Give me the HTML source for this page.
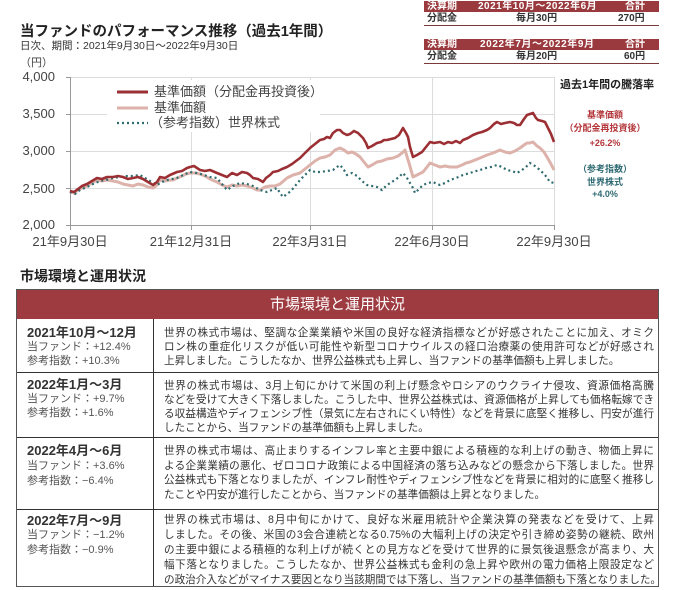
<!DOCTYPE html>
<html><head><meta charset="utf-8">
<style>
html,body{margin:0;padding:0;background:#fff;}
body{width:678px;height:590px;position:relative;overflow:hidden;font-family:"Liberation Sans","Noto Sans CJK JP",sans-serif;color:#333;}
.a{position:absolute;white-space:nowrap;}
.ttl{left:20px;top:23px;font-size:14.5px;font-weight:bold;color:#222;line-height:18px;}
.sub{left:20px;top:39px;font-size:10.5px;color:#333;line-height:14px;}
.yen{left:20px;top:56px;font-size:11px;color:#444;line-height:14px;}
.yl{font-size:13px;color:#444;width:40px;text-align:right;left:15px;line-height:14px;}
.xl{font-size:13px;color:#444;width:100px;text-align:center;top:234px;line-height:16px;}
.tb{position:absolute;left:424px;width:235px;font-size:10px;font-weight:bold;}
.tb .h{background:#9b3a3e;color:#fff;height:11px;line-height:11px;position:relative;}
.tb .r{height:13px;line-height:13px;position:relative;border-bottom:1px solid #7a3a3a;color:#333;}
.tb span{position:absolute;top:0;}
.ann{font-size:9px;font-weight:bold;text-align:center;width:100px;left:555px;line-height:12px;}
.sec{left:20px;top:267px;font-size:14px;font-weight:bold;color:#222;line-height:18px;}
.tbl{position:absolute;left:16px;top:289px;width:641px;height:296px;border:1px solid #555;}
.th{position:absolute;left:0;top:0;width:641px;height:29px;background:#9d3b40;color:#fff;font-size:15px;text-align:center;line-height:29px;}
.row{position:absolute;left:0;width:641px;border-top:1px solid #333;}
.vl{position:absolute;left:136px;top:29px;width:1px;height:267px;background:#333;}
.lc{position:absolute;left:10px;}
.lc .d{font-size:13px;font-weight:bold;color:#333;}
.lc .s{font-size:11px;color:#555;}
.rc{position:absolute;left:147px;width:490px;font-size:10.6px;color:#333;}
.rc div{white-space:nowrap;text-align:justify;text-align-last:justify;}
.rc div.l{text-align-last:left;}
</style></head><body>

<div class="a ttl">当ファンドのパフォーマンス推移（過去1年間）</div>
<div class="a sub">日次、期間：2021年9月30日～2022年9月30日</div>
<div class="a yen">（円）</div>

<div class="a yl" style="top:70px">4,000</div>
<div class="a yl" style="top:107px">3,500</div>
<div class="a yl" style="top:144px">3,000</div>
<div class="a yl" style="top:182px">2,500</div>
<div class="a yl" style="top:218px">2,000</div>

<svg class="a" style="left:0;top:0" width="678" height="260" viewBox="0 0 678 260">
 <g stroke="#dcdcdc" stroke-width="1" fill="none">
  <line x1="70" y1="77.5" x2="554" y2="77.5"/>
  <line x1="70" y1="114.5" x2="554" y2="114.5"/>
  <line x1="70" y1="151.5" x2="554" y2="151.5"/>
  <line x1="70" y1="188.5" x2="554" y2="188.5"/>
  <line x1="191.5" y1="77" x2="191.5" y2="225"/>
  <line x1="310.5" y1="77" x2="310.5" y2="225"/>
  <line x1="432.5" y1="77" x2="432.5" y2="225"/>
  <line x1="554.5" y1="77" x2="554.5" y2="225"/>
 </g>
 <g stroke="#999" stroke-width="1" fill="none">
  <line x1="70.5" y1="77" x2="70.5" y2="226"/>
  <line x1="70" y1="225.5" x2="555" y2="225.5"/>
  <line x1="66" y1="77.5" x2="70" y2="77.5"/>
  <line x1="66" y1="114.5" x2="70" y2="114.5"/>
  <line x1="66" y1="151.5" x2="70" y2="151.5"/>
  <line x1="66" y1="188.5" x2="70" y2="188.5"/>
  <line x1="66" y1="225.5" x2="70" y2="225.5"/>
  <line x1="70.5" y1="225" x2="70.5" y2="230"/>
  <line x1="191.5" y1="225" x2="191.5" y2="230"/>
  <line x1="310.5" y1="225" x2="310.5" y2="230"/>
  <line x1="432.5" y1="225" x2="432.5" y2="230"/>
  <line x1="554.5" y1="225" x2="554.5" y2="230"/>
 </g>
 <rect x="107" y="80" width="213" height="52" fill="#fff"/>
 <polyline fill="none" stroke="#dcb2ab" stroke-width="3" stroke-linejoin="round" points="70,191 74,193 78,190 82,188 87,186 92,183 97,180 102,181 107,180 113,181 118,182 123,184 128,185 133,186 138,184 143,185 148,187 153,188 157,185 160,180 165,181 170,180 173,180 177,178 182,176 186,174 190,173 195,173 200,174 205,176 210,179 217,182 222,185 227,187 232,185 237,186 242,185 247,186 253,188 257,190 260,190 265,187 270,186 275,186 280,184 287,178 293,175 300,173 305,169 310,165 315,161 320,158 325,157 330,155 335,150 340,148 344,150 348,153 352,152 356,154 360,157 364,162 368,167 372,165 377,162 382,161 387,159 393,158 398,156 402,153 405,150 409,163 413,177 417,175 423,172 427,167 430,163 435,165 440,167 445,166 450,167 457,167 462,165 466,163 470,162 475,160 480,158 487,155 493,153 500,150 505,152 510,153 515,151 520,148 524,145 527,143 530,143 533,142 537,146 540,148 544,152 547,157 551,164 554,170"/>
 <polyline fill="none" stroke="#2f6b6e" stroke-width="2.2" stroke-dasharray="2 3" points="70,192 75,194 80,190 87,187 93,184 100,181 106,180 113,178 120,177 127,176 133,176 140,175 145,178 150,181 157,185 162,182 167,180 172,179 177,178 183,175 190,172 197,173 204,175 210,177 217,178 222,184 227,190 233,186 240,183 247,184 253,186 260,190 267,192 272,190 277,188 280,193 283,197 287,194 291,191 295,186 300,180 305,175 310,170 315,172 320,172 327,171 333,170 337,167 340,165 344,170 347,175 352,173 357,176 362,181 367,185 372,186 377,187 380,189 382,190 386,186 390,183 395,180 399,177 403,173 407,178 410,183 413,188 415,193 419,189 423,185 428,183 433,182 437,184 440,185 445,183 450,180 456,178 463,175 470,173 476,171 480,170 486,168 491,167 497,165 502,167 507,170 512,171 517,173 522,170 526,167 530,163 535,166 540,170 545,175 550,182 554,183"/>
 <polyline fill="none" stroke="#9b2f33" stroke-width="2.6" stroke-linejoin="round" points="70,191 74,192 78,189 82,186 87,184 92,181 97,178 102,179 107,177 113,177 118,176 123,177 128,179 133,178 138,177 143,179 148,182 153,185 157,182 160,177 165,178 170,175 177,172 182,171 187,168 190,167 194,166 197,168 200,170 205,171 210,170 217,173 222,175 227,177 232,173 237,175 242,172 247,173 250,175 253,178 258,179 263,182 266,178 270,175 273,172 278,171 282,169 287,167 292,164 296,161 300,158 305,153 310,148 315,144 320,140 324,139 327,137 330,138 333,133 337,130 340,130 343,133 347,135 350,134 354,131 358,133 363,138 366,143 368,148 372,146 377,143 381,142 384,140 387,140 391,139 395,138 399,135 403,128 406,133 408,137 410,147 413,157 417,155 422,152 426,147 430,142 434,143 440,142 444,144 448,142 452,143 456,141 460,143 463,140 468,138 473,135 478,133 482,132 487,130 490,128 494,124 497,122 501,124 505,123 510,122 514,123 517,125 520,125 524,119 527,115 530,114 533,113 536,118 538,120 542,121 545,122 548,128 551,134 554,142"/>
 <line x1="117" y1="92" x2="148" y2="92" stroke="#9b2f33" stroke-width="3"/>
 <line x1="117" y1="108" x2="148" y2="108" stroke="#dcb2ab" stroke-width="3"/>
 <line x1="117" y1="123" x2="148" y2="123" stroke="#2f6b6e" stroke-width="2.2" stroke-dasharray="2 3"/>
</svg>

<div class="a" style="left:154px;top:84px;font-size:13px;color:#444;line-height:16px">基準価額（分配金再投資後）</div>
<div class="a" style="left:154px;top:100px;font-size:13px;color:#444;line-height:16px">基準価額</div>
<div class="a" style="left:150px;top:115px;font-size:13px;color:#444;line-height:16px">（参考指数）世界株式</div>

<div class="a xl" style="left:20px">21年9月30日</div>
<div class="a xl" style="left:141px">21年12月31日</div>
<div class="a xl" style="left:260px">22年3月31日</div>
<div class="a xl" style="left:382px">22年6月30日</div>
<div class="a xl" style="left:504px">22年9月30日</div>

<div class="tb" style="top:1px">
 <div class="h"><span style="left:3px">決算期</span><span style="left:54px;letter-spacing:0.5px">2021年10月～2022年6月</span><span style="left:201px">合計</span></div>
 <div class="r"><span style="left:3px">分配金</span><span style="left:92px">毎月30円</span><span style="left:194px">270円</span></div>
</div>
<div class="tb" style="top:39px">
 <div class="h"><span style="left:3px">決算期</span><span style="left:56px;letter-spacing:0.6px">2022年7月～2022年9月</span><span style="left:201px">合計</span></div>
 <div class="r"><span style="left:3px">分配金</span><span style="left:92px">毎月20円</span><span style="left:200px">60円</span></div>
</div>

<div class="a" style="left:560px;top:78px;font-size:11px;font-weight:bold;color:#222;line-height:14px">過去1年間の騰落率</div>
<div class="a ann" style="top:109px;color:#b3363b">基準価額</div>
<div class="a ann" style="top:122px;color:#b3363b">（分配金再投資後）</div>
<div class="a ann" style="top:137px;color:#b3363b">+26.2%</div>
<div class="a ann" style="top:163px;color:#2e6a72">（参考指数）</div>
<div class="a ann" style="top:176px;color:#2e6a72">世界株式</div>
<div class="a ann" style="top:188px;color:#2e6a72">+4.0%</div>

<div class="a sec">市場環境と運用状況</div>

<div class="tbl">
 <div class="th">市場環境と運用状況</div>
 <div class="vl"></div>

 <div class="row" style="top:29px;height:53px;border-top:none">
  <div class="lc" style="top:7px;line-height:14.2px"><div class="d">2021年10月～12月</div><div class="s">当ファンド：+12.4%</div><div class="s">参考指数：+10.3%</div></div>
  <div class="rc" style="top:7px;line-height:14.2px">
   <div>世界の株式市場は、堅調な企業業績や米国の良好な経済指標などが好感されたことに加え、オミク</div>
   <div>ロン株の重症化リスクが低い可能性や新型コロナウイルスの経口治療薬の使用許可などが好感され</div>
   <div class="l">上昇しました。こうしたなか、世界公益株式も上昇し、当ファンドの基準価額も上昇しました。</div>
  </div>
 </div>

 <div class="row" style="top:82px;height:65px">
  <div class="lc" style="top:5px;line-height:14px"><div class="d">2022年1月～3月</div><div class="s">当ファンド：+9.7%</div><div class="s">参考指数：+1.6%</div></div>
  <div class="rc" style="top:6px;line-height:14px">
   <div>世界の株式市場は、3月上旬にかけて米国の利上げ懸念やロシアのウクライナ侵攻、資源価格高騰</div>
   <div>などを受けて大きく下落しました。こうした中、世界公益株式は、資源価格が上昇しても価格転嫁でき</div>
   <div>る収益構造やディフェンシブ性（景気に左右されにくい特性）などを背景に底堅く推移し、円安が進行</div>
   <div class="l">したことから、当ファンドの基準価額も上昇しました。</div>
  </div>
 </div>

 <div class="row" style="top:147px;height:72px">
  <div class="lc" style="top:6px;line-height:14.8px"><div class="d">2022年4月～6月</div><div class="s">当ファンド：+3.6%</div><div class="s">参考指数：−6.4%</div></div>
  <div class="rc" style="top:6px;line-height:14.7px">
   <div>世界の株式市場は、高止まりするインフレ率と主要中銀による積極的な利上げの動き、物価上昇に</div>
   <div>よる企業業績の悪化、ゼロコロナ政策による中国経済の落ち込みなどの懸念から下落しました。世界</div>
   <div>公益株式も下落となりましたが、インフレ耐性やディフェンシブ性などを背景に相対的に底堅く推移し</div>
   <div class="l">たことや円安が進行したことから、当ファンドの基準価額は上昇となりました。</div>
  </div>
 </div>

 <div class="row" style="top:219px;height:77px">
  <div class="lc" style="top:3px;line-height:15px"><div class="d">2022年7月～9月</div><div class="s">当ファンド：−1.2%</div><div class="s">参考指数：−0.9%</div></div>
  <div class="rc" style="top:3px;line-height:15px">
   <div>世界の株式市場は、8月中旬にかけて、良好な米雇用統計や企業決算の発表などを受けて、上昇</div>
   <div>しました。その後、米国の3会合連続となる0.75%の大幅利上げの決定や引き締め姿勢の継続、欧州</div>
   <div>の主要中銀による積極的な利上げが続くとの見方などを受けて世界的に景気後退懸念が高まり、大</div>
   <div>幅下落となりました。こうしたなか、世界公益株式も金利の急上昇や欧州の電力価格上限設定など</div>
   <div>の政治介入などがマイナス要因となり当該期間では下落し、当ファンドの基準価額も下落となりました。</div>
  </div>
 </div>
</div>

</body></html>
